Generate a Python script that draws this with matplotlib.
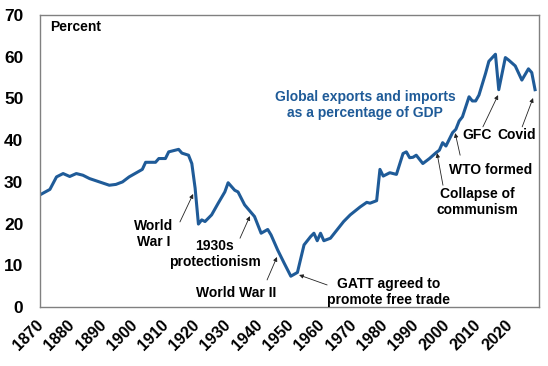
import numpy as np
import matplotlib
matplotlib.use("Agg")
import matplotlib.pyplot as plt

plt.rcParams['font.family'] = ['Liberation Sans', 'DejaVu Sans']
plt.rcParams['font.weight'] = 'bold'

# trade openness (year, percent of GDP)
years = [1870, 1873, 1875, 1877, 1879, 1881, 1883, 1885, 1888, 1891, 1893, 1895,
         1897, 1901, 1902, 1905, 1906, 1908, 1909, 1912, 1913, 1915, 1916, 1917,
         1918, 1919, 1920, 1922, 1924, 1926, 1927, 1929, 1930, 1932, 1935, 1937,
         1939, 1940, 1942, 1944, 1946, 1948, 1950, 1952, 1953, 1954, 1955, 1956,
         1958, 1962, 1964, 1967, 1969, 1970, 1972, 1973, 1974, 1975, 1976, 1978,
         1980, 1981, 1982, 1983, 1984, 1986, 1988, 1990, 1991, 1992, 1993, 1995,
         1996, 1997, 1998, 2000, 2001, 2002, 2003, 2005, 2006, 2008, 2009, 2011,
         2012, 2014, 2016, 2018, 2019, 2020]
trade = [26.9, 28.2, 31.2, 32.0, 31.3, 32.0, 31.6, 30.8, 30.0, 29.2, 29.4, 30.0,
         31.2, 33.0, 34.7, 34.7, 35.6, 35.6, 37.2, 37.8, 36.9, 36.4, 34.4, 28.5,
         19.9, 20.9, 20.5, 22.1, 24.9, 27.6, 29.8, 28.0, 27.6, 24.5, 21.7, 17.7,
         18.6, 17.3, 13.7, 10.5, 7.4, 8.3, 14.9, 16.9, 17.7, 15.9, 17.7, 15.9,
         16.5, 20.5, 22.1, 24.0, 25.1, 24.9, 25.5, 33.0, 31.4, 31.8, 32.2, 31.8,
         36.8, 37.2, 35.8, 35.9, 36.4, 34.4, 35.6, 37.0, 37.6, 39.4, 38.6, 41.8,
         42.6, 44.6, 45.6, 50.4, 49.4, 49.4, 50.8, 56.0, 58.9, 60.6, 52.1, 59.8,
         59.2, 57.8, 54.4, 57.1, 56.2, 52.1]

tick_labels = [str(y) for y in range(1870, 2021, 10)]
# label spacing in the original is slightly tighter than the data scale
tick_pos = np.linspace(1870.3, 2012.4, len(tick_labels))

events = ["World\nWar I", "1930s\nprotectionism", "World War II",
          "GATT agreed to\npromote free trade", "Collapse of\ncommunism",
          "WTO formed", "GFC", "Covid"]
event_xy = [(1916.4, 27.1), (1933.6, 21.8), (1941.8, 12.0), (1948.5, 7.7),
            (1990.3, 36.9), (1995.8, 41.7), (2008.8, 50.8), (2019.4, 50.1)]
text_xy = [(1904.5, 17.5), (1923.0, 12.7), (1929.4, 3.4), (1975.5, 3.6),
           (2002.4, 25.2), (2006.4, 32.8), (2002.4, 41.2), (2014.5, 41.2)]
tail_xy = [(1912.4, 20.4), (1930.6, 16.5), (1938.8, 6.5), (1957.0, 5.3),
           (1992.1, 29.2), (1997.3, 36.4), (2004.2, 43.2), (2016.1, 43.2)]

blue = '#1f5b98'

fig = plt.figure(figsize=(5.48, 3.66), dpi=100)
ax = fig.add_axes([0.073, 0.161, 0.9106, 0.798])
ax.plot(years, trade, color=blue, lw=2.2)

ax.set_xlim(1870, 2021.2)
ax.set_ylim(0, 70)
ax.set_yticks(range(0, 71, 10))
ax.set_xticks(tick_pos)
ax.set_xticklabels(tick_labels, rotation=45, ha='right', va='center',
                   rotation_mode='anchor')
ax.tick_params(length=0)
ax.tick_params(axis='x', pad=11, labelsize=11.5)
ax.tick_params(axis='y', pad=12, labelsize=12.5)
for s in ax.spines.values():
    s.set_color('#808080')
    s.set_linewidth(1)

ax.text(1873, 67.1, "Percent", fontsize=10, fontweight='bold', va='center')
ax.text(1968.5, 48.4, "Global exports and imports\nas a percentage of GDP",
        color=blue, fontsize=10, fontweight='bold', ha='center', va='center',
        linespacing=1.2)

for lab, xy, txy, tl in zip(events, event_xy, text_xy, tail_xy):
    ax.text(txy[0], txy[1], lab, fontsize=10, fontweight='bold',
            ha='center', va='center', linespacing=1.15)
    ax.annotate("", xy=xy, xytext=tl,
                arrowprops=dict(arrowstyle='-|>', color='#222222', lw=0.6,
                                mutation_scale=6, shrinkA=0, shrinkB=0))

fig.savefig("out.png", dpi=100)
